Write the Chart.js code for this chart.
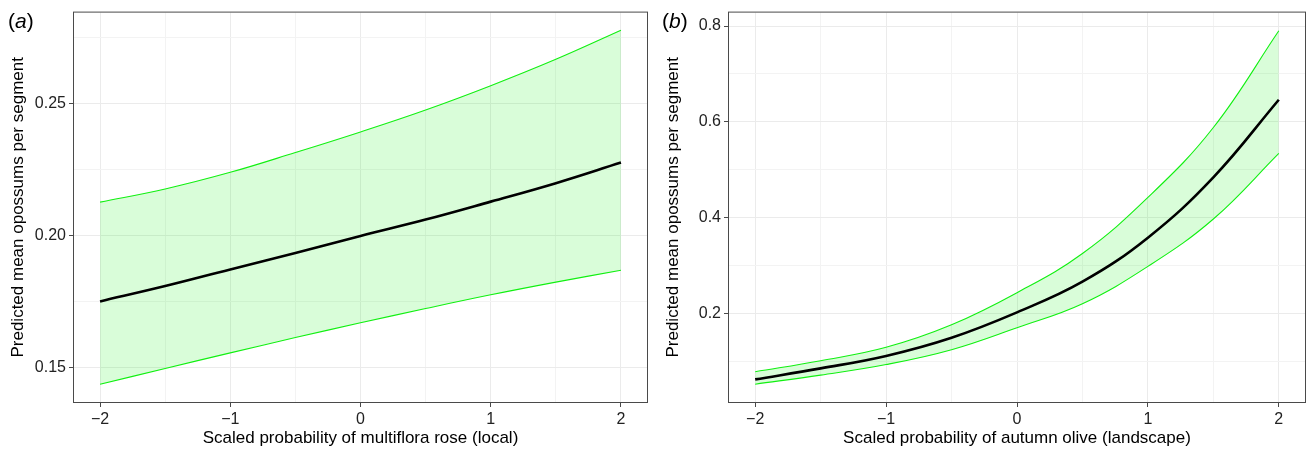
<!DOCTYPE html>
<html>
<head>
<meta charset="utf-8">
<script src="https://cdn.jsdelivr.net/npm/chart.js@4.4.1/dist/chart.umd.min.js"></script>
<style>
  html, body { margin: 0; padding: 0; background: #fff; }
  #wrap { position: relative; width: 1309px; height: 457px; overflow: hidden;
          font-family: 'Liberation Sans', Arial, sans-serif; }
  canvas { position: absolute; top: 0; }
  .tag { position: absolute; top: 10px; font-size: 21px; line-height: 1; color: #000; }
</style>
</head>
<body>
<div id="wrap">
  <canvas id="chartA" width="655" height="457" style="left:0"></canvas>
  <canvas id="chartB" width="654" height="457" style="left:655px"></canvas>
  <div class="tag" style="left:8px">(<i>a</i>)</div>
  <div class="tag" style="left:662px">(<i>b</i>)</div>
</div>

<script>
// ── Data ───────────────────────────────────────────────────
const xVals = [-2, -1.5, -1, -0.5, 0, 0.5, 1, 1.5, 2];

// (a) multiflora rose, local
const roseMean  = [0.1750, 0.1808, 0.1871, 0.1933, 0.1998, 0.2060, 0.2128, 0.2198, 0.2276];
const roseUpper = [0.2126, 0.2176, 0.2239, 0.2314, 0.2392, 0.2475, 0.2567, 0.2667, 0.2777];
const roseLower = [0.1436, 0.1496, 0.1555, 0.1613, 0.1669, 0.1723, 0.1775, 0.1823, 0.1868];

// (b) autumn olive, landscape
const oliveMean  = [0.062, 0.085, 0.111, 0.149, 0.202, 0.266, 0.358, 0.484, 0.646];
const oliveUpper = [0.078, 0.101, 0.129, 0.176, 0.243, 0.325, 0.442, 0.588, 0.790];
const oliveLower = [0.052, 0.071, 0.093, 0.124, 0.170, 0.220, 0.298, 0.397, 0.534];

// ── Ticks ──────────────────────────────────────────────────
const xMajor = [-2, -1, 0, 1, 2];
const xMinor = [-1.5, -0.5, 0.5, 1.5];
const xTickLabels = ['\u22122', '\u22121', '0', '1', '2'];

const roseYMajor = [0.15, 0.20, 0.25];
const roseYMinor = [0.175, 0.225, 0.275];
const roseYLabels = ['0.15', '0.20', '0.25'];

const oliveYMajor = [0.2, 0.4, 0.6, 0.8];
const oliveYMinor = [0.1, 0.3, 0.5, 0.7];
const oliveYLabels = ['0.2', '0.4', '0.6', '0.8'];

const yTitle = 'Predicted mean opossums per segment';

// ── Helpers ────────────────────────────────────────────────
const FONT = "'Liberation Sans', Arial, sans-serif";

const panelBorder = {
  id: 'panelBorder',
  afterDatasetsDraw(chart) {
    const { ctx, chartArea: a } = chart;
    ctx.save();
    ctx.strokeStyle = '#4a4a4a';
    ctx.lineWidth = 1;
    ctx.strokeRect(a.left - 0.5, a.top - 0.5, a.right - a.left + 1, a.bottom - a.top + 1);
    ctx.restore();
  }
};

function points(ys) {
  return xVals.map((x, i) => ({ x: x, y: ys[i] }));
}

function axis(min, max, major, minor, labels, title, fit) {
  return {
    type: 'linear',
    min: min, max: max,
    afterBuildTicks: s => {
      s.ticks = major.map(v => ({ value: v }))
        .concat(minor.map(v => ({ value: v, minor: true })))
        .sort((p, q) => p.value - q.value);
    },
    afterFit: fit,
    grid: {
      color: c => (c.tick && c.tick.minor) ? '#f3f3f3' : '#ebebeb',
      tickColor: c => (c.tick && c.tick.minor) ? 'rgba(0,0,0,0)' : '#4a4a4a',
      lineWidth: 1,
      tickLength: 5
    },
    border: { display: false },
    ticks: {
      autoSkip: false,
      maxRotation: 0,
      padding: 3,
      color: '#222',
      font: { family: FONT, size: 16 },
      callback: v => {
        const i = major.indexOf(v);
        return i < 0 ? '' : labels[i];
      }
    },
    title: {
      display: true,
      text: title,
      color: '#000',
      font: { family: FONT, size: 17 },
      padding: { top: 8, bottom: 8 }
    }
  };
}

function panel(id, mean, upper, lower, yMin, yMax, yMajor, yMinor, yLabels, xTitle, padRight) {
  new Chart(document.getElementById(id), {
    type: 'line',
    data: {
      // mean first so it is drawn on top of the ribbon
      datasets: [
        { data: points(mean), borderColor: '#000', borderWidth: 2.6, pointRadius: 0,
          tension: 0.4, fill: false },
        { data: points(lower), borderColor: '#11f011', borderWidth: 1.1, pointRadius: 0,
          tension: 0.4, fill: false },
        { data: points(upper), borderColor: '#11f011', borderWidth: 1.1, pointRadius: 0,
          tension: 0.4, fill: '-1', backgroundColor: 'rgba(0,240,0,0.15)' }
      ]
    },
    options: {
      responsive: false,
      animation: false,
      devicePixelRatio: 1,
      layout: { padding: { top: 11, right: padRight, left: 0, bottom: 0 } },
      plugins: { legend: { display: false }, tooltip: { enabled: false } },
      scales: {
        x: axis(-2.2, 2.2, xMajor, xMinor, xTickLabels, xTitle, s => { s.height = 55; }),
        y: axis(yMin, yMax, yMajor, yMinor, yLabels, yTitle, s => { s.width = 74; })
      }
    },
    plugins: [panelBorder]
  });
}

panel('chartA', roseMean, roseUpper, roseLower, 0.1369, 0.2844,
      roseYMajor, roseYMinor, roseYLabels,
      'Scaled probability of multiflora rose (local)', 8);

panel('chartB', oliveMean, oliveUpper, oliveLower, 0.0148, 0.828,
      oliveYMajor, oliveYMinor, oliveYLabels,
      'Scaled probability of autumn olive (landscape)', 4);
</script>
</body>
</html>
